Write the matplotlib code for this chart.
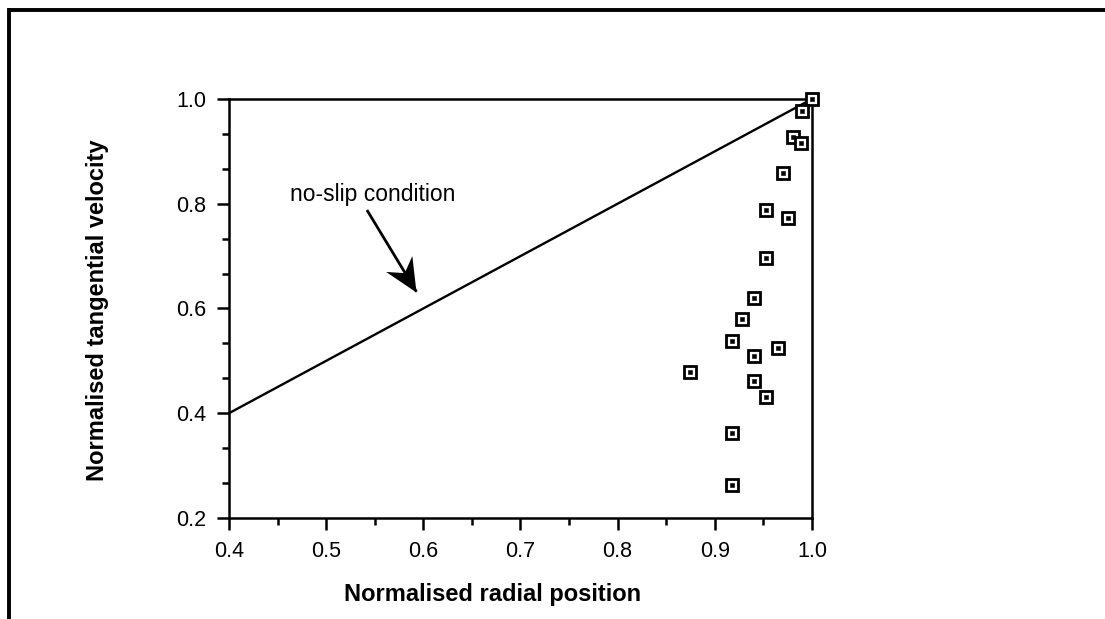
import matplotlib
matplotlib.use("Agg")
import numpy as np
import matplotlib.pyplot as plt
from matplotlib.lines import Line2D
from matplotlib.markers import MarkerStyle
from matplotlib.path import Path
from matplotlib.transforms import Affine2D
from matplotlib.ticker import MultipleLocator

# Measured velocity profile near the wall
radial_position = [1.000, 0.990, 0.980, 0.989, 0.970, 0.953, 0.975, 0.953, 0.940,
                   0.928, 0.918, 0.965, 0.940, 0.874, 0.940, 0.953, 0.918, 0.918]
tangential_velocity = [1.000, 0.977, 0.927, 0.916, 0.859, 0.788, 0.773, 0.696, 0.620,
                       0.580, 0.538, 0.525, 0.509, 0.478, 0.462, 0.431, 0.362, 0.263]

# No-slip reference line (velocity equals radial position)
noslip_x = [0.4, 1.0]
noslip_y = [0.4, 1.0]

x_ticks = [0.4, 0.5, 0.6, 0.7, 0.8, 0.9, 1.0]
y_ticks = [0.2, 0.4, 0.6, 0.8, 1.0]

plt.rcParams['font.family'] = ['Liberation Sans', 'DejaVu Sans']

fig = plt.figure(figsize=(11.05, 6.19), dpi=100)
ax = fig.add_axes([0.2072, 0.1632, 0.5276, 0.6769])

ax.plot(noslip_x, noslip_y, color='black', lw=1.7, zorder=2)

ax.plot(radial_position, tangential_velocity, linestyle='none', marker='s',
        markersize=8.4, markerfacecolor='white', markeredgecolor='black',
        markeredgewidth=2.0, zorder=3, clip_on=False)
ax.plot(radial_position, tangential_velocity, linestyle='none', marker='s',
        markersize=2.4, markerfacecolor='black', markeredgecolor='black',
        markeredgewidth=0.4, zorder=4, clip_on=False)

ax.set_xlim(0.4, 1.0)
ax.set_ylim(0.2, 1.0)
ax.set_xticks(x_ticks)
ax.set_yticks(y_ticks)
ax.set_xticklabels([f"{v:.1f}" for v in x_ticks])
ax.set_yticklabels([f"{v:.1f}" for v in y_ticks])
ax.xaxis.set_minor_locator(MultipleLocator(0.05))
ax.yaxis.set_minor_locator(MultipleLocator(0.2 / 3))

for s in ax.spines.values():
    s.set_linewidth(1.8)
ax.tick_params(axis='both', which='major', direction='out', length=8.6, width=1.8,
               labelsize=15.5, colors='black')
ax.tick_params(axis='x', which='major', pad=8)
ax.tick_params(axis='y', which='major', pad=8)
ax.tick_params(axis='both', which='minor', direction='out', length=5, width=1.8)

fig.text(0.4455, 1 - 594 / 619, 'Normalised radial position', fontsize=17,
         fontweight='bold', ha='center', va='center')
fig.text(98 / 1105, 1 - 310 / 619, 'Normalised tangential velocity', fontsize=17,
         fontweight='bold', ha='center', va='center', rotation=90)

# Annotation: label, shaft and a barbed arrowhead
arrow_tail = (0.542, 0.788)
arrow_tip = (0.593, 0.632)
ax.text(0.548, 0.817, 'no-slip condition', fontsize=16.5, ha='center', va='center')
ax.plot([arrow_tail[0], arrow_tip[0]], [arrow_tail[1], arrow_tip[1]],
        color='black', lw=2.0, zorder=2, solid_capstyle='butt')

p0 = ax.transData.transform(arrow_tail)
p1 = ax.transData.transform(arrow_tip)
angle = np.degrees(np.arctan2(p1[1] - p0[1], p1[0] - p0[0]))
head_path = Path([(0, 0), (-1.0, 0.46), (-0.68, 0.0), (-1.0, -0.46), (0, 0)],
                 [Path.MOVETO, Path.LINETO, Path.LINETO, Path.LINETO, Path.CLOSEPOLY])
head = MarkerStyle(head_path, transform=Affine2D().rotate_deg(angle))
ax.plot([arrow_tip[0]], [arrow_tip[1]], linestyle='none', marker=head,
        markersize=48, color='black', markeredgewidth=0, zorder=3)

# Frame along the top and left edges of the page
fig.add_artist(Line2D([0.0072, 1.0], [0.984, 0.984], transform=fig.transFigure,
                      color='black', lw=2.8, solid_capstyle='butt'))
fig.add_artist(Line2D([0.0077, 0.0077], [0.0, 0.984], transform=fig.transFigure,
                      color='black', lw=2.8, solid_capstyle='projecting'))

fig.savefig('out.png', dpi=100, facecolor='white')
